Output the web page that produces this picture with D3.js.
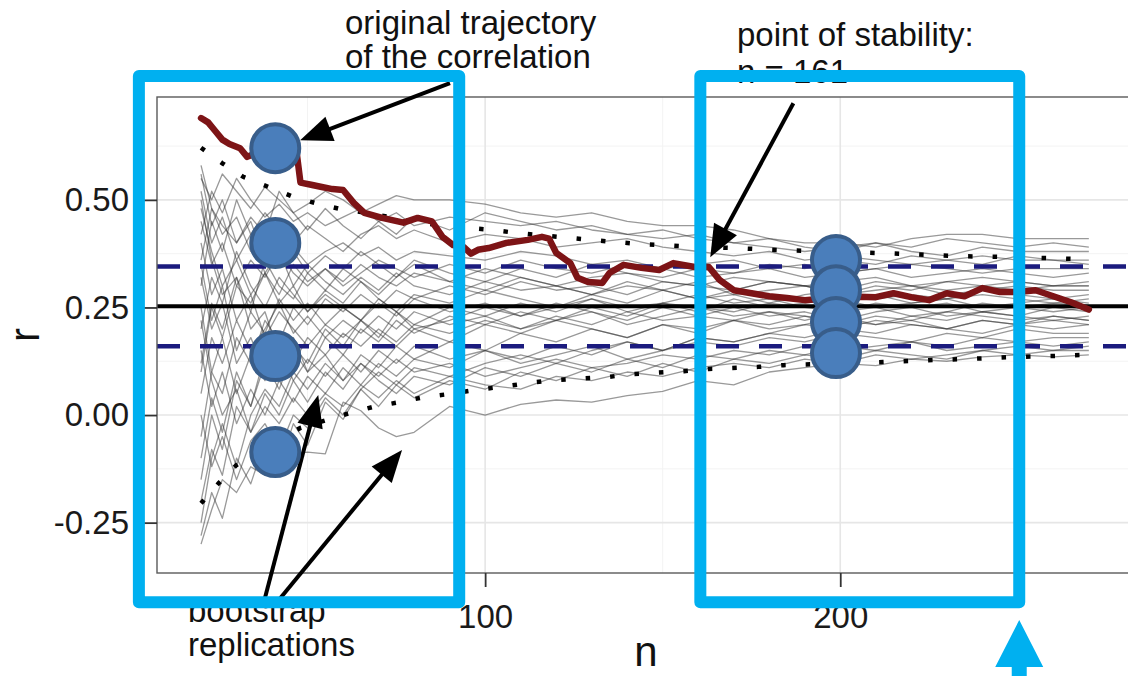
<!DOCTYPE html>
<html><head><meta charset="utf-8">
<script src="https://cdn.jsdelivr.net/npm/d3@7"></script>
<style>
html,body{margin:0;padding:0;background:#fff;}
svg{display:block;font-family:"Liberation Sans",Arial,Helvetica,sans-serif;}
</style></head><body>
<svg id="chart" width="1128" height="676"></svg>
<script>
// ---------------- DATA ----------------
const xTicks = [100, 200];
const xTickLabels = ["100", "200"];
const yTicks = [-0.25, 0, 0.25, 0.5];
const yTickLabels = ["-0.25", "0.00", "0.25", "0.50"];
const xMinor = [50, 150, 250];
const yMinor = [-0.125, 0.125, 0.375, 0.625];

// sample sizes at which bootstrap trajectories were read
const bootN = [20,23,26,30,34,38,42,46,50,55,60,65,70,75,80,90,100,110,120,130,140,150,160,170,180,190,200,210,220,230,240,250,260,270];
const boot01 = [0.55,0.50,0.56,0.52,0.48,0.53,0.50,0.47,0.49,0.52,0.50,0.47,0.49,0.51,0.50,0.50,0.49,0.47,0.46,0.47,0.45,0.44,0.44,0.43,0.41,0.40,0.40,0.39,0.41,0.42,0.42,0.41,0.41,0.41];
const boot02 = [0.42,0.52,0.47,0.55,0.50,0.46,0.49,0.45,0.47,0.44,0.46,0.48,0.45,0.47,0.44,0.46,0.45,0.44,0.45,0.43,0.42,0.43,0.41,0.40,0.39,0.38,0.39,0.40,0.38,0.37,0.39,0.38,0.38,0.38];
const boot03 = [0.30,0.45,0.38,0.50,0.42,0.47,0.43,0.40,0.44,0.41,0.38,0.42,0.44,0.41,0.43,0.40,0.42,0.41,0.39,0.40,0.41,0.39,0.38,0.37,0.38,0.36,0.37,0.36,0.35,0.36,0.37,0.36,0.36,0.36];
const boot04 = [0.58,0.48,0.42,0.46,0.38,0.41,0.36,0.39,0.35,0.38,0.40,0.37,0.39,0.36,0.38,0.37,0.36,0.38,0.37,0.35,0.36,0.34,0.35,0.36,0.34,0.35,0.33,0.34,0.35,0.34,0.33,0.34,0.34,0.34];
const boot05 = [0.10,0.25,0.18,0.30,0.26,0.33,0.28,0.35,0.31,0.34,0.30,0.33,0.36,0.34,0.32,0.35,0.33,0.36,0.34,0.33,0.35,0.34,0.32,0.33,0.34,0.32,0.33,0.34,0.32,0.33,0.34,0.33,0.32,0.33];
const boot06 = [0.45,0.35,0.40,0.30,0.36,0.32,0.38,0.33,0.30,0.34,0.31,0.35,0.32,0.30,0.33,0.31,0.34,0.32,0.30,0.32,0.33,0.31,0.30,0.32,0.31,0.30,0.31,0.32,0.30,0.31,0.32,0.31,0.30,0.31];
const boot07 = [-0.05,0.10,0.05,0.18,0.12,0.22,0.17,0.25,0.21,0.27,0.24,0.28,0.25,0.29,0.27,0.30,0.28,0.31,0.29,0.30,0.28,0.31,0.30,0.29,0.31,0.30,0.29,0.31,0.30,0.29,0.30,0.31,0.30,0.30];
const boot08 = [0.52,0.40,0.46,0.36,0.42,0.33,0.38,0.30,0.35,0.31,0.28,0.32,0.29,0.33,0.30,0.28,0.31,0.29,0.30,0.28,0.30,0.29,0.31,0.28,0.29,0.30,0.28,0.29,0.30,0.28,0.29,0.30,0.29,0.29];
const boot09 = [0.20,0.32,0.26,0.38,0.30,0.25,0.32,0.28,0.24,0.29,0.26,0.31,0.27,0.24,0.28,0.26,0.29,0.27,0.25,0.28,0.26,0.29,0.27,0.28,0.26,0.28,0.29,0.27,0.28,0.27,0.29,0.28,0.27,0.28];
const boot10 = [0.35,0.22,0.30,0.15,0.24,0.19,0.27,0.22,0.26,0.21,0.25,0.22,0.27,0.24,0.21,0.25,0.23,0.26,0.24,0.27,0.25,0.26,0.28,0.26,0.27,0.25,0.27,0.28,0.26,0.27,0.28,0.27,0.26,0.27];
const boot11 = [-0.15,0.00,-0.08,0.08,0.02,0.12,0.06,0.15,0.10,0.18,0.14,0.20,0.17,0.22,0.19,0.23,0.21,0.24,0.22,0.25,0.23,0.26,0.24,0.27,0.25,0.26,0.27,0.25,0.26,0.27,0.25,0.26,0.27,0.26];
const boot12 = [0.48,0.38,0.30,0.36,0.28,0.33,0.26,0.30,0.24,0.28,0.25,0.22,0.26,0.23,0.27,0.24,0.26,0.23,0.25,0.27,0.24,0.26,0.25,0.24,0.26,0.25,0.24,0.26,0.25,0.26,0.24,0.25,0.26,0.255];
const boot13 = [0.05,0.18,0.12,0.22,0.15,0.20,0.26,0.19,0.23,0.18,0.22,0.19,0.23,0.20,0.24,0.21,0.23,0.20,0.22,0.24,0.21,0.23,0.25,0.23,0.24,0.22,0.24,0.25,0.23,0.24,0.26,0.25,0.24,0.25];
const boot14 = [0.25,0.10,0.18,0.05,0.14,0.08,0.16,0.12,0.18,0.14,0.19,0.16,0.20,0.17,0.21,0.19,0.22,0.20,0.23,0.21,0.24,0.22,0.23,0.25,0.23,0.24,0.22,0.24,0.25,0.23,0.24,0.23,0.25,0.24];
const boot15 = [-0.25,-0.10,-0.02,-0.12,0.00,0.06,0.02,0.10,0.06,0.12,0.08,0.14,0.11,0.16,0.13,0.17,0.15,0.19,0.17,0.20,0.18,0.21,0.20,0.22,0.21,0.23,0.22,0.21,0.23,0.22,0.24,0.23,0.22,0.23];
const boot16 = [0.40,0.28,0.34,0.22,0.28,0.18,0.24,0.20,0.16,0.21,0.18,0.22,0.19,0.16,0.20,0.17,0.21,0.19,0.22,0.20,0.18,0.21,0.19,0.22,0.20,0.21,0.23,0.21,0.22,0.20,0.22,0.21,0.23,0.22];
const boot17 = [0.15,0.02,0.10,-0.02,0.06,0.00,0.08,0.03,0.09,0.05,0.11,0.07,0.12,0.09,0.13,0.11,0.15,0.13,0.16,0.14,0.17,0.15,0.18,0.17,0.19,0.18,0.20,0.19,0.21,0.20,0.19,0.21,0.20,0.21];
const boot18 = [0.32,0.20,0.26,0.12,0.18,0.10,0.15,0.08,0.13,0.09,0.14,0.10,0.15,0.12,0.16,0.13,0.15,0.12,0.14,0.16,0.13,0.15,0.17,0.16,0.18,0.17,0.19,0.18,0.17,0.19,0.18,0.20,0.19,0.19];
const boot19 = [-0.20,-0.08,-0.14,0.02,-0.04,0.05,0.00,0.08,0.03,0.10,0.06,0.12,0.08,0.05,0.09,0.07,0.11,0.09,0.12,0.10,0.13,0.11,0.14,0.13,0.15,0.14,0.16,0.15,0.17,0.16,0.18,0.17,0.18,0.18];
const boot20 = [0.50,0.36,0.28,0.32,0.20,0.24,0.14,0.18,0.10,0.14,0.08,0.12,0.09,0.13,0.10,0.12,0.09,0.11,0.13,0.11,0.12,0.14,0.13,0.15,0.14,0.16,0.15,0.16,0.17,0.15,0.16,0.17,0.16,0.17];
const boot21 = [0.00,-0.12,-0.05,-0.15,-0.06,-0.02,-0.08,0.00,-0.03,0.04,0.00,0.06,0.02,0.07,0.04,0.08,0.06,0.10,0.08,0.11,0.09,0.12,0.10,0.13,0.12,0.14,0.13,0.15,0.14,0.13,0.15,0.16,0.15,0.16];
const boot22 = [0.22,0.08,0.00,0.06,-0.04,0.02,-0.02,0.04,0.00,0.05,0.02,0.07,0.04,0.08,0.05,0.09,0.07,0.06,0.09,0.08,0.10,0.09,0.11,0.12,0.11,0.13,0.12,0.14,0.13,0.14,0.15,0.14,0.15,0.15];
const boot23 = [-0.30,-0.22,-0.15,-0.18,-0.12,-0.14,-0.10,-0.09,-0.086,-0.09,0.03,0.01,-0.03,-0.05,-0.04,0.02,0.00,0.025,0.035,0.03,0.045,0.055,0.08,0.07,0.10,0.11,0.12,0.115,0.13,0.125,0.135,0.14,0.135,0.14];
const boot24 = [0.36,0.48,0.44,0.40,0.46,0.42,0.52,0.47,0.43,0.48,0.44,0.41,0.45,0.42,0.46,0.43,0.47,0.45,0.43,0.44,0.42,0.41,0.42,0.40,0.41,0.39,0.38,0.40,0.39,0.41,0.40,0.39,0.40,0.39];
const boot25 = [-0.28,-0.18,-0.24,-0.10,-0.16,-0.06,-0.12,-0.02,-0.07,0.03,-0.01,0.06,0.10,0.07,0.11,0.09,0.12,0.14,0.12,0.15,0.17,0.15,0.18,0.17,0.19,0.21,0.20,0.22,0.21,0.20,0.22,0.21,0.22,0.21];
const boot26 = [0.56,0.44,0.50,0.40,0.45,0.36,0.42,0.38,0.33,0.37,0.34,0.38,0.35,0.32,0.36,0.33,0.31,0.34,0.32,0.35,0.33,0.32,0.34,0.33,0.35,0.34,0.36,0.35,0.37,0.36,0.35,0.37,0.36,0.35];
const boot27 = [-0.10,0.04,-0.04,0.10,0.02,0.14,0.08,0.16,0.12,0.20,0.16,0.22,0.18,0.24,0.20,0.22,0.25,0.23,0.26,0.24,0.22,0.25,0.23,0.22,0.24,0.23,0.21,0.23,0.22,0.24,0.23,0.22,0.23,0.22];
const boot28 = [0.12,0.26,0.20,0.32,0.24,0.36,0.30,0.27,0.33,0.29,0.34,0.31,0.28,0.32,0.35,0.31,0.29,0.32,0.30,0.28,0.31,0.29,0.27,0.29,0.31,0.30,0.28,0.30,0.29,0.31,0.30,0.29,0.30,0.30];
const bootSeries = [boot01,boot02,boot03,boot04,boot05,boot06,boot07,boot08,boot09,boot10,boot11,boot12,boot13,boot14,
  boot15,boot16,boot17,boot18,boot19,boot20,boot21,boot22,boot23,boot24,boot25,boot26,boot27,boot28];

// original trajectory of the correlation
const origN = [20,22,24,26,28,31,33,36,40,44,47,48,51,54,57,60,63,66,71,77,81,85,88,91,94,96,98,101,106,112,116,118,120,124,126,129,133,135,139,144,149,153,159,163,166,170,175,180,185,190,195,200,205,210,215,220,225,230,235,240,245,250,255,260,265,270];
const origR = [0.69,0.68,0.66,0.64,0.63,0.62,0.60,0.61,0.62,0.61,0.605,0.54,0.535,0.53,0.525,0.523,0.493,0.47,0.458,0.447,0.458,0.45,0.414,0.395,0.39,0.375,0.384,0.388,0.40,0.407,0.414,0.41,0.377,0.353,0.319,0.309,0.307,0.33,0.349,0.342,0.337,0.353,0.344,0.344,0.314,0.29,0.283,0.276,0.272,0.267,0.27,0.272,0.275,0.274,0.283,0.274,0.267,0.283,0.276,0.295,0.286,0.286,0.29,0.276,0.262,0.245];

// dotted bounds of the bootstrap distribution
const upperN = [20,26,32,39,46,52,59,68,76,82,88,102,109,127,141,156,170,184,213,234,248,270];
const upperR = [0.621,0.585,0.553,0.530,0.507,0.493,0.479,0.468,0.455,0.447,0.440,0.430,0.423,0.409,0.399,0.392,0.388,0.383,0.376,0.369,0.367,0.362];
const lowerN = [20,25,30,37,42,48,56,62,69,76,83,90,97,104,112,119,134,141,156,163,177,184,212,227,241,249,263,270];
const lowerR = [-0.205,-0.158,-0.116,-0.08,-0.055,-0.03,-0.01,0.005,0.02,0.03,0.042,0.049,0.058,0.065,0.074,0.081,0.088,0.095,0.102,0.107,0.112,0.116,0.123,0.128,0.132,0.135,0.138,0.14];

// reference lines
const finalR = 0.253;
const corridorR = [0.345, 0.16];

// annotation marks (data units)
const circlesLeftN = 40.9, circlesLeftR = [0.62, 0.40, 0.137, -0.086];
const circlesRightN = 198.8, circlesRightR = [0.36, 0.29, 0.216, 0.144];
const boxesN = [[2.5, 92.7], [160.6, 250.4]];
const boxesR = [0.788, -0.435];
const arrowFrom = [[90.1, 0.771], [186.8, 0.7244], [37.85, -0.4295], [41.9, -0.4295]];
const arrowTo   = [[47.9, 0.6385], [163.4, 0.3668], [53.0, 0.0464], [76.6, -0.0813]];
const labelOrig = ["original trajectory", "of the correlation"];
const labelStab = ["point of stability:", "n = 161"];
const labelBoot = ["bootstrap", "replications"];

// ---------------- DRAW ----------------
const svg = d3.select("#chart");
const P = {left:157, top:97, right:1135, bottom:573};
const x = d3.scaleLinear().domain([7.6, 283]).range([P.left, P.right]);
const y = d3.scaleLinear().domain([-0.367, 0.739]).range([P.bottom, P.top]);

svg.append("rect").attr("width",1128).attr("height",676).attr("fill","#fff");
svg.append("defs").append("clipPath").attr("id","pc").append("rect")
  .attr("x",P.left).attr("y",P.top).attr("width",P.right-P.left).attr("height",P.bottom-P.top);

const grid = svg.append("g");
grid.selectAll(".gxm").data(xMinor).join("line").attr("x1",d=>x(d)).attr("x2",d=>x(d))
  .attr("y1",P.top).attr("y2",P.bottom).attr("stroke","#f3f3f3").attr("stroke-width",1);
grid.selectAll(".gym").data(yMinor).join("line").attr("y1",d=>y(d)).attr("y2",d=>y(d))
  .attr("x1",P.left).attr("x2",P.right).attr("stroke","#f3f3f3").attr("stroke-width",1);
grid.selectAll(".gx").data(xTicks).join("line").attr("x1",d=>x(d)).attr("x2",d=>x(d))
  .attr("y1",P.top).attr("y2",P.bottom).attr("stroke","#e6e6e6").attr("stroke-width",1.6);
grid.selectAll(".gy").data(yTicks).join("line").attr("y1",d=>y(d)).attr("y2",d=>y(d))
  .attr("x1",P.left).attr("x2",P.right).attr("stroke","#e6e6e6").attr("stroke-width",1.6);

const plot = svg.append("g").attr("clip-path","url(#pc)");
const line = d3.line().x(d=>x(d[0])).y(d=>y(d[1]));

plot.selectAll(".boot").data(bootSeries).join("path")
  .attr("d", s => line(s.map((v,i)=>[bootN[i], v])))
  .attr("fill","none").attr("stroke","#333").attr("stroke-opacity",0.5)
  .attr("stroke-width",1.3).attr("stroke-linejoin","round");

plot.append("path").attr("d", line(x.domain().map(n=>[n, finalR])))
  .attr("stroke","#000").attr("stroke-width",4).attr("fill","none");
plot.selectAll(".corr").data(corridorR).join("path")
  .attr("d", r => line(x.domain().map(n=>[n, r])))
  .attr("stroke","#1b1b7e").attr("stroke-width",4.5).attr("stroke-dasharray","23 20").attr("fill","none");

plot.selectAll(".bound").data([[upperN,upperR],[lowerN,lowerR]]).join("path")
  .attr("d", b => line(b[0].map((n,i)=>[n, b[1][i]])))
  .attr("fill","none").attr("stroke","#000").attr("stroke-width",4.5).attr("stroke-dasharray","4.5 20");

plot.append("path").attr("d", line(origN.map((n,i)=>[n, origR[i]])))
  .attr("fill","none").attr("stroke","#7d1416").attr("stroke-width",6.5)
  .attr("stroke-linejoin","round").attr("stroke-linecap","round");

// panel border
svg.append("rect").attr("x",P.left).attr("y",P.top).attr("width",P.right-P.left).attr("height",P.bottom-P.top)
  .attr("fill","none").attr("stroke","#5a5a5a").attr("stroke-width",1.4);

// axes
const gy = svg.append("g").attr("transform",`translate(${P.left},0)`)
  .call(d3.axisLeft(y).tickValues(yTicks).tickFormat((d,i)=>yTickLabels[i]).tickSize(14).tickPadding(14));
const gx = svg.append("g").attr("transform",`translate(0,${P.bottom})`)
  .call(d3.axisBottom(x).tickValues(xTicks).tickFormat((d,i)=>xTickLabels[i]).tickSize(14).tickPadding(18));
[gx,gy].forEach(g=>{
  g.select(".domain").remove();
  g.selectAll(".tick line").attr("stroke","#333").attr("stroke-width",1.8);
  g.selectAll(".tick text").attr("fill","#1a1a1a").style("font-size","33px")
    .style("font-family",'"Liberation Sans",Arial,Helvetica,sans-serif');
});
svg.append("text").attr("x",(P.left+P.right)/2).attr("y",666).attr("text-anchor","middle")
  .style("font-size","42px").attr("fill","#111").text("n");
svg.append("text").attr("transform",`translate(39,${(P.top+P.bottom)/2}) rotate(-90)`).attr("text-anchor","middle")
  .style("font-size","42px").attr("fill","#111").text("r");

// annotation texts
function label(lines, x0, y0, dy){
  const t = svg.append("text").attr("x",x0).attr("y",y0).style("font-size","33px").attr("fill","#111");
  lines.forEach((s,i)=>t.append("tspan").attr("x",x0).attr("y",y0+i*dy).text(s));
}
label(labelOrig, 345, 34, 34);
label(labelStab, 737, 46, 37);
label(labelBoot, 188, 622, 34);

// arrows
const ann = svg.append("g");
arrowFrom.forEach((f,i)=>{
  const x1=x(f[0]), y1=y(f[1]), x2=x(arrowTo[i][0]), y2=y(arrowTo[i][1]);
  const L=Math.hypot(x2-x1,y2-y1), ux=(x2-x1)/L, uy=(y2-y1)/L;
  const hl=32, hw=13, bx=x2-ux*hl, by=y2-uy*hl;
  ann.append("line").attr("x1",x1).attr("y1",y1).attr("x2",bx+ux*4).attr("y2",by+uy*4)
    .attr("stroke","#000").attr("stroke-width",4);
  ann.append("path").attr("d",`M${x2},${y2}L${bx-uy*hw},${by+ux*hw}L${bx+uy*hw},${by-ux*hw}Z`).attr("fill","#000");
});

// highlight boxes
ann.selectAll(".box").data(boxesN).join("rect")
  .attr("x",d=>x(d[0])).attr("width",d=>x(d[1])-x(d[0]))
  .attr("y",y(boxesR[0])).attr("height",y(boxesR[1])-y(boxesR[0]))
  .attr("fill","none").attr("stroke","#00b0f0").attr("stroke-width",12).attr("stroke-linejoin","round");

// blue up arrow under the right box
const ax = x(boxesN[1][1]);
ann.append("path").attr("d",`M${ax},620L${ax+24},667L${ax+7.5},667L${ax+7.5},680L${ax-7.5},680L${ax-7.5},667L${ax-24},667Z`)
  .attr("fill","#00b0f0");

// circles
const circ = [];
circlesLeftR.forEach(r=>circ.push([circlesLeftN, r]));
circlesRightR.forEach(r=>circ.push([circlesRightN, r]));
ann.selectAll(".dot").data(circ).join("circle")
  .attr("cx",d=>x(d[0])).attr("cy",d=>y(d[1])).attr("r",24)
  .attr("fill","#4a7ebb").attr("stroke","#385d8a").attr("stroke-width",4);
</script></body></html>
